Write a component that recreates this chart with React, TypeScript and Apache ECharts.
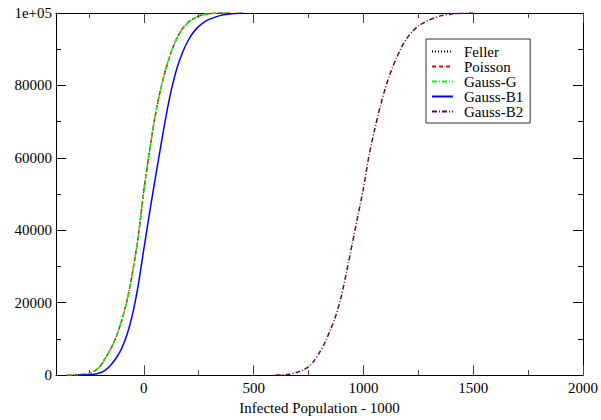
import React, { useEffect, useRef } from "react";
import * as echarts from "echarts";

// Shared x grid for the three near-identical curves
const gX = [-350, -300, -250, -225, -200, -175, -150, -125, -100, -75, -50, -25, 0, 25, 50, 75, 100, 125, 150, 175, 200, 225, 250, 275, 300, 350, 400];
const fellerY = [0, 60, 400, 1100, 2400, 4700, 7300, 10700, 15200, 21000, 28800, 38500, 51000, 61500, 71000, 78500, 84500, 89300, 93000, 95600, 97300, 98400, 99200, 99600, 99850, 100000, 100000];
const poissonY = [0, 60, 400, 1100, 2400, 4700, 7300, 10700, 15200, 21000, 28800, 38500, 51000, 61500, 71000, 78500, 84500, 89300, 93000, 95600, 97300, 98400, 99200, 99600, 99850, 100000, 100000];
const gaussGY = [0, 60, 400, 1100, 2400, 4700, 7300, 10700, 15200, 21000, 28800, 38500, 51000, 61500, 71000, 78500, 84500, 89300, 93000, 95600, 97300, 98400, 99200, 99600, 99850, 100000, 100000];

const b1X = [-300, -250, -200, -175, -150, -125, -100, -75, -50, -25, 0, 25, 50, 75, 100, 125, 150, 175, 200, 225, 250, 275, 300, 350, 400, 450];
const b1Y = [0, 50, 600, 1400, 2800, 4800, 7500, 11500, 17200, 25000, 34800, 44400, 53600, 62500, 71200, 78700, 84600, 88900, 92200, 94600, 96300, 97500, 98300, 99350, 99800, 100000];

const b2X = [600, 650, 700, 725, 750, 775, 800, 825, 850, 875, 900, 925, 950, 975, 1000, 1025, 1050, 1075, 1100, 1125, 1150, 1175, 1200, 1225, 1250, 1275, 1300, 1350, 1400, 1450, 1500];
const b2Y = [0, 150, 800, 1400, 2300, 3900, 6200, 9000, 12600, 16500, 22000, 29000, 36500, 44000, 51500, 60500, 67500, 73800, 79300, 83800, 87500, 90700, 93200, 95000, 96400, 97300, 98100, 99200, 99700, 99950, 100000];

const xMajorTicks = [0, 500, 1000, 1500, 2000];
const xMinorTicks = [-250, 250, 750, 1250, 1750];
const seriesNames = ["Feller", "Poisson", "Gauss-G", "Gauss-B1", "Gauss-B2"];
const xAxisTitle = "Infected Population - 1000";

const FONT = "Times New Roman";

function pairs(xs: number[], ys: number[]) {
  return xs.map((x, i) => [x, ys[i]]);
}

export default function App() {
  const ref = useRef<HTMLDivElement>(null);
  useEffect(() => {
    if (!ref.current) return;
    const chart = echarts.init(ref.current, null, { renderer: "svg" });
    const axisLine = { show: true, onZero: false, lineStyle: { color: "#000", width: 1 } };
    const xBase = { type: "value" as const, min: -400, max: 2000, splitLine: { show: false } };
    const yBase = { type: "value" as const, min: 0, max: 100000, interval: 20000, splitLine: { show: false } };
    const lineSeries = (name: string, xs: number[], ys: number[], color: string, width: number, type: any) => ({
      name,
      type: "line",
      showSymbol: false,
      symbol: "none",
      smooth: 0.25,
      data: pairs(xs, ys),
      lineStyle: { color, width, type },
      itemStyle: { color },
    });
    chart.setOption({
      animation: false,
      backgroundColor: "#fff",
      textStyle: { fontFamily: FONT, fontSize: 15 },
      grid: { left: 56, right: 17, top: 13, bottom: 37 },
      legend: {
        orient: "vertical",
        left: 426,
        top: 39,
        padding: [5, 7, 4, 5],
        itemWidth: 21,
        itemHeight: 10,
        itemGap: 0,
        borderColor: "#333",
        borderWidth: 1,
        backgroundColor: "#fff",
        itemStyle: { opacity: 0 },
        textStyle: { fontFamily: FONT, fontSize: 15, color: "#000", padding: [0, 0, 0, 6] },
        data: seriesNames,
      },
      xAxis: [
        {
          ...xBase,
          position: "bottom",
          axisLine,
          axisTick: { show: true, inside: true, length: 10, customValues: xMajorTicks, lineStyle: { color: "#444" } },
          axisLabel: {
            customValues: xMajorTicks,
            fontFamily: FONT,
            fontSize: 15,
            color: "#000",
            margin: 5,
            formatter: (v: number) => String(v),
          },
          name: xAxisTitle,
          nameLocation: "middle",
          nameGap: 20,
          nameTextStyle: { fontFamily: FONT, fontSize: 15, color: "#000" },
        },
        {
          ...xBase,
          position: "bottom",
          axisLine: { show: false, onZero: false },
          axisTick: { show: true, inside: true, length: 5, customValues: xMinorTicks, lineStyle: { color: "#444" } },
          axisLabel: { show: false },
        },
        {
          ...xBase,
          position: "top",
          axisLine,
          axisTick: { show: true, inside: true, length: 10, customValues: xMajorTicks, lineStyle: { color: "#444" } },
          axisLabel: { show: false },
        },
        {
          ...xBase,
          position: "top",
          axisLine: { show: false, onZero: false },
          axisTick: { show: true, inside: true, length: 5, customValues: xMinorTicks, lineStyle: { color: "#444" } },
          axisLabel: { show: false },
        },
      ],
      yAxis: [
        {
          ...yBase,
          position: "left",
          axisLine,
          axisTick: { show: true, inside: true, length: 10, lineStyle: { color: "#000" } },
          minorTick: { show: true, splitNumber: 2, length: 5, lineStyle: { color: "#000" } },
          axisLabel: {
            fontFamily: FONT,
            fontSize: 15,
            color: "#000",
            margin: 4,
            formatter: (v: number) => (v === 100000 ? "1e+05" : String(v)),
          },
        },
        {
          ...yBase,
          position: "right",
          axisLine,
          axisTick: { show: true, inside: true, length: 10, lineStyle: { color: "#000" } },
          minorTick: { show: true, splitNumber: 2, length: 5, lineStyle: { color: "#000" } },
          axisLabel: { show: false },
        },
      ],
      series: [
        lineSeries("Feller", gX, fellerY, "#000", 1.2, [1, 2]),
        lineSeries("Poisson", gX, poissonY, "#ff0000", 1.5, [4, 3]),
        lineSeries("Gauss-G", gX, gaussGY, "#00ff00", 1.5, [5, 2, 1, 2]),
        lineSeries("Gauss-B1", b1X, b1Y, "#0000ff", 1.5, "solid"),
        lineSeries("Gauss-B2", b2X, b2Y, "#670748", 1.5, [5, 2, 1, 2]),
      ],
    });
    return () => chart.dispose();
  }, []);
  return (
    <div>
      <style>{`#chart text { font-family: "Times New Roman", "Liberation Serif", serif !important; font-size: 15px !important; fill: #000 !important; }`}</style>
      <div
        id="chart"
        ref={ref}
        style={{ position: "fixed", left: 0, top: 0, width: 601, height: 420, background: "#fff" }}
      />
    </div>
  );
}
